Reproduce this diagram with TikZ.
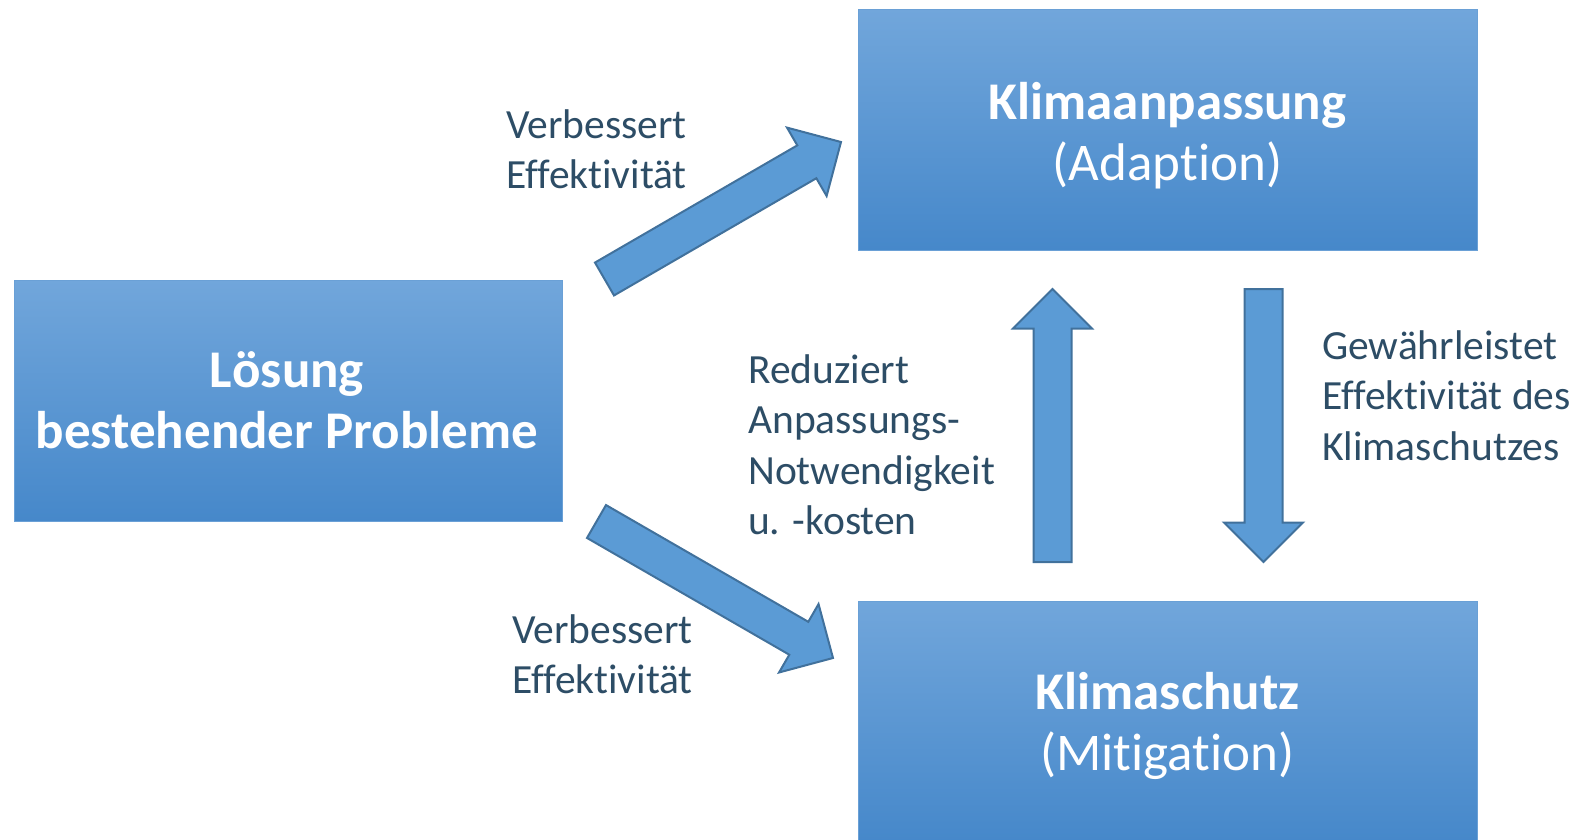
\documentclass[tikz,border=0pt]{standalone}
\usepackage{fontspec}
\setmainfont[Ligatures={NoCommon}]{Carlito}
\usetikzlibrary{calc}

\definecolor{boxtop}{HTML}{71A6DB}
\definecolor{boxmid}{HTML}{5A9AD7}
\definecolor{boxbot}{HTML}{4688CA}
\definecolor{boxline}{HTML}{6AA0D6}
\definecolor{arrowfill}{HTML}{5B9BD5}
\definecolor{arrowline}{HTML}{41719C}
\definecolor{labeltext}{HTML}{2D4D66}

\tikzset{
  box/.style={rectangle, draw=boxline, line width=1pt,
    top color=boxtop, middle color=boxmid, bottom color=boxbot,
    inner sep=0pt},
  boxtitle/.style={text=white, anchor=base, inner sep=0pt,
    font=\fontsize{53}{61.5}\selectfont},
  note/.style={text=labeltext, anchor=base west, inner sep=0pt,
    font=\fontsize{41.5}{50.5}\selectfont},
  arrowbody/.style={fill=arrowfill, draw=arrowline, line width=2pt,
    line join=miter},
  % block arrow along +x: shaft 38 wide, head 79 wide and 39.5 long
  pics/blockarrow/.style={code={
    \draw[arrowbody] (0,-19) -- (#1-39.5,-19) -- (#1-39.5,-39.5) -- (#1,0)
      -- (#1-39.5,39.5) -- (#1-39.5,19) -- (0,19) -- cycle;
  }}
}

% draws a block arrow from coordinate #1 to coordinate #2
\newcommand{\blockarrowfromto}[2]{%
  \path let \p1=($(#2)-(#1)$), \n1={atan2(\y1,\x1)}, \n2={veclen(\x1,\y1)}
    in pic[rotate=\n1] at (#1) {blockarrow={\n2}};%
}

\begin{document}
\begin{tikzpicture}[x=1pt,y=-1pt]
\useasboundingbox (0,0) rectangle (1583,839);

% boxes
\node[box, minimum width=548pt, minimum height=241pt] (loes) at (288,400.5) {};
\node[box, minimum width=619pt, minimum height=241pt] (adapt) at (1167.5,129.5) {};
\node[box, minimum width=619pt, minimum height=240pt] (mitig) at (1167.5,721) {};

% box titles
\node[boxtitle] (loesT) at (287,387)
  {\begin{tabular}[t]{@{}c@{}}\bfseries Lösung\\ \bfseries bestehender Probleme\end{tabular}};
\node[boxtitle] (adaptT) at (1167.5,119)
  {\begin{tabular}[t]{@{}c@{}}\bfseries Klimaanpassung\\ (Adaption)\end{tabular}};
\node[boxtitle] (mitigT) at (1167.5,709)
  {\begin{tabular}[t]{@{}c@{}}\bfseries Klimaschutz\\ (Mitigation)\end{tabular}};

% arrow end points
\coordinate (a1s) at (604.5,279);
\coordinate (a1e) at (841,142);
\coordinate (a2s) at (596.5,521.5);
\coordinate (a2e) at (833,658);
\coordinate (a3s) at (1052.5,562);
\coordinate (a3e) at (1052.5,289);
\coordinate (a4s) at (1263.5,289);
\coordinate (a4e) at (1263.5,562);

\blockarrowfromto{a1s}{a1e}
\blockarrowfromto{a2s}{a2e}
\blockarrowfromto{a3s}{a3e}
\blockarrowfromto{a4s}{a4e}

% arrow labels
\node[note] (n1) at (506,138)
  {\begin{tabular}[t]{@{}l@{}}Verbessert\\ Effektivität\end{tabular}};
\node[note] (n2) at (512,643)
  {\begin{tabular}[t]{@{}l@{}}Verbessert\\ Effektivität\end{tabular}};
\node[note] (n3) at (748,383)
  {\begin{tabular}[t]{@{}l@{}}Reduziert\\ Anpassungs-\\ Notwendigkeit\\ u. -kosten\end{tabular}};
\node[note] (n4) at (1322,359)
  {\begin{tabular}[t]{@{}l@{}}Gewährleistet\\ Effektivität des\\ Klimaschutzes\end{tabular}};
\end{tikzpicture}
\end{document}
